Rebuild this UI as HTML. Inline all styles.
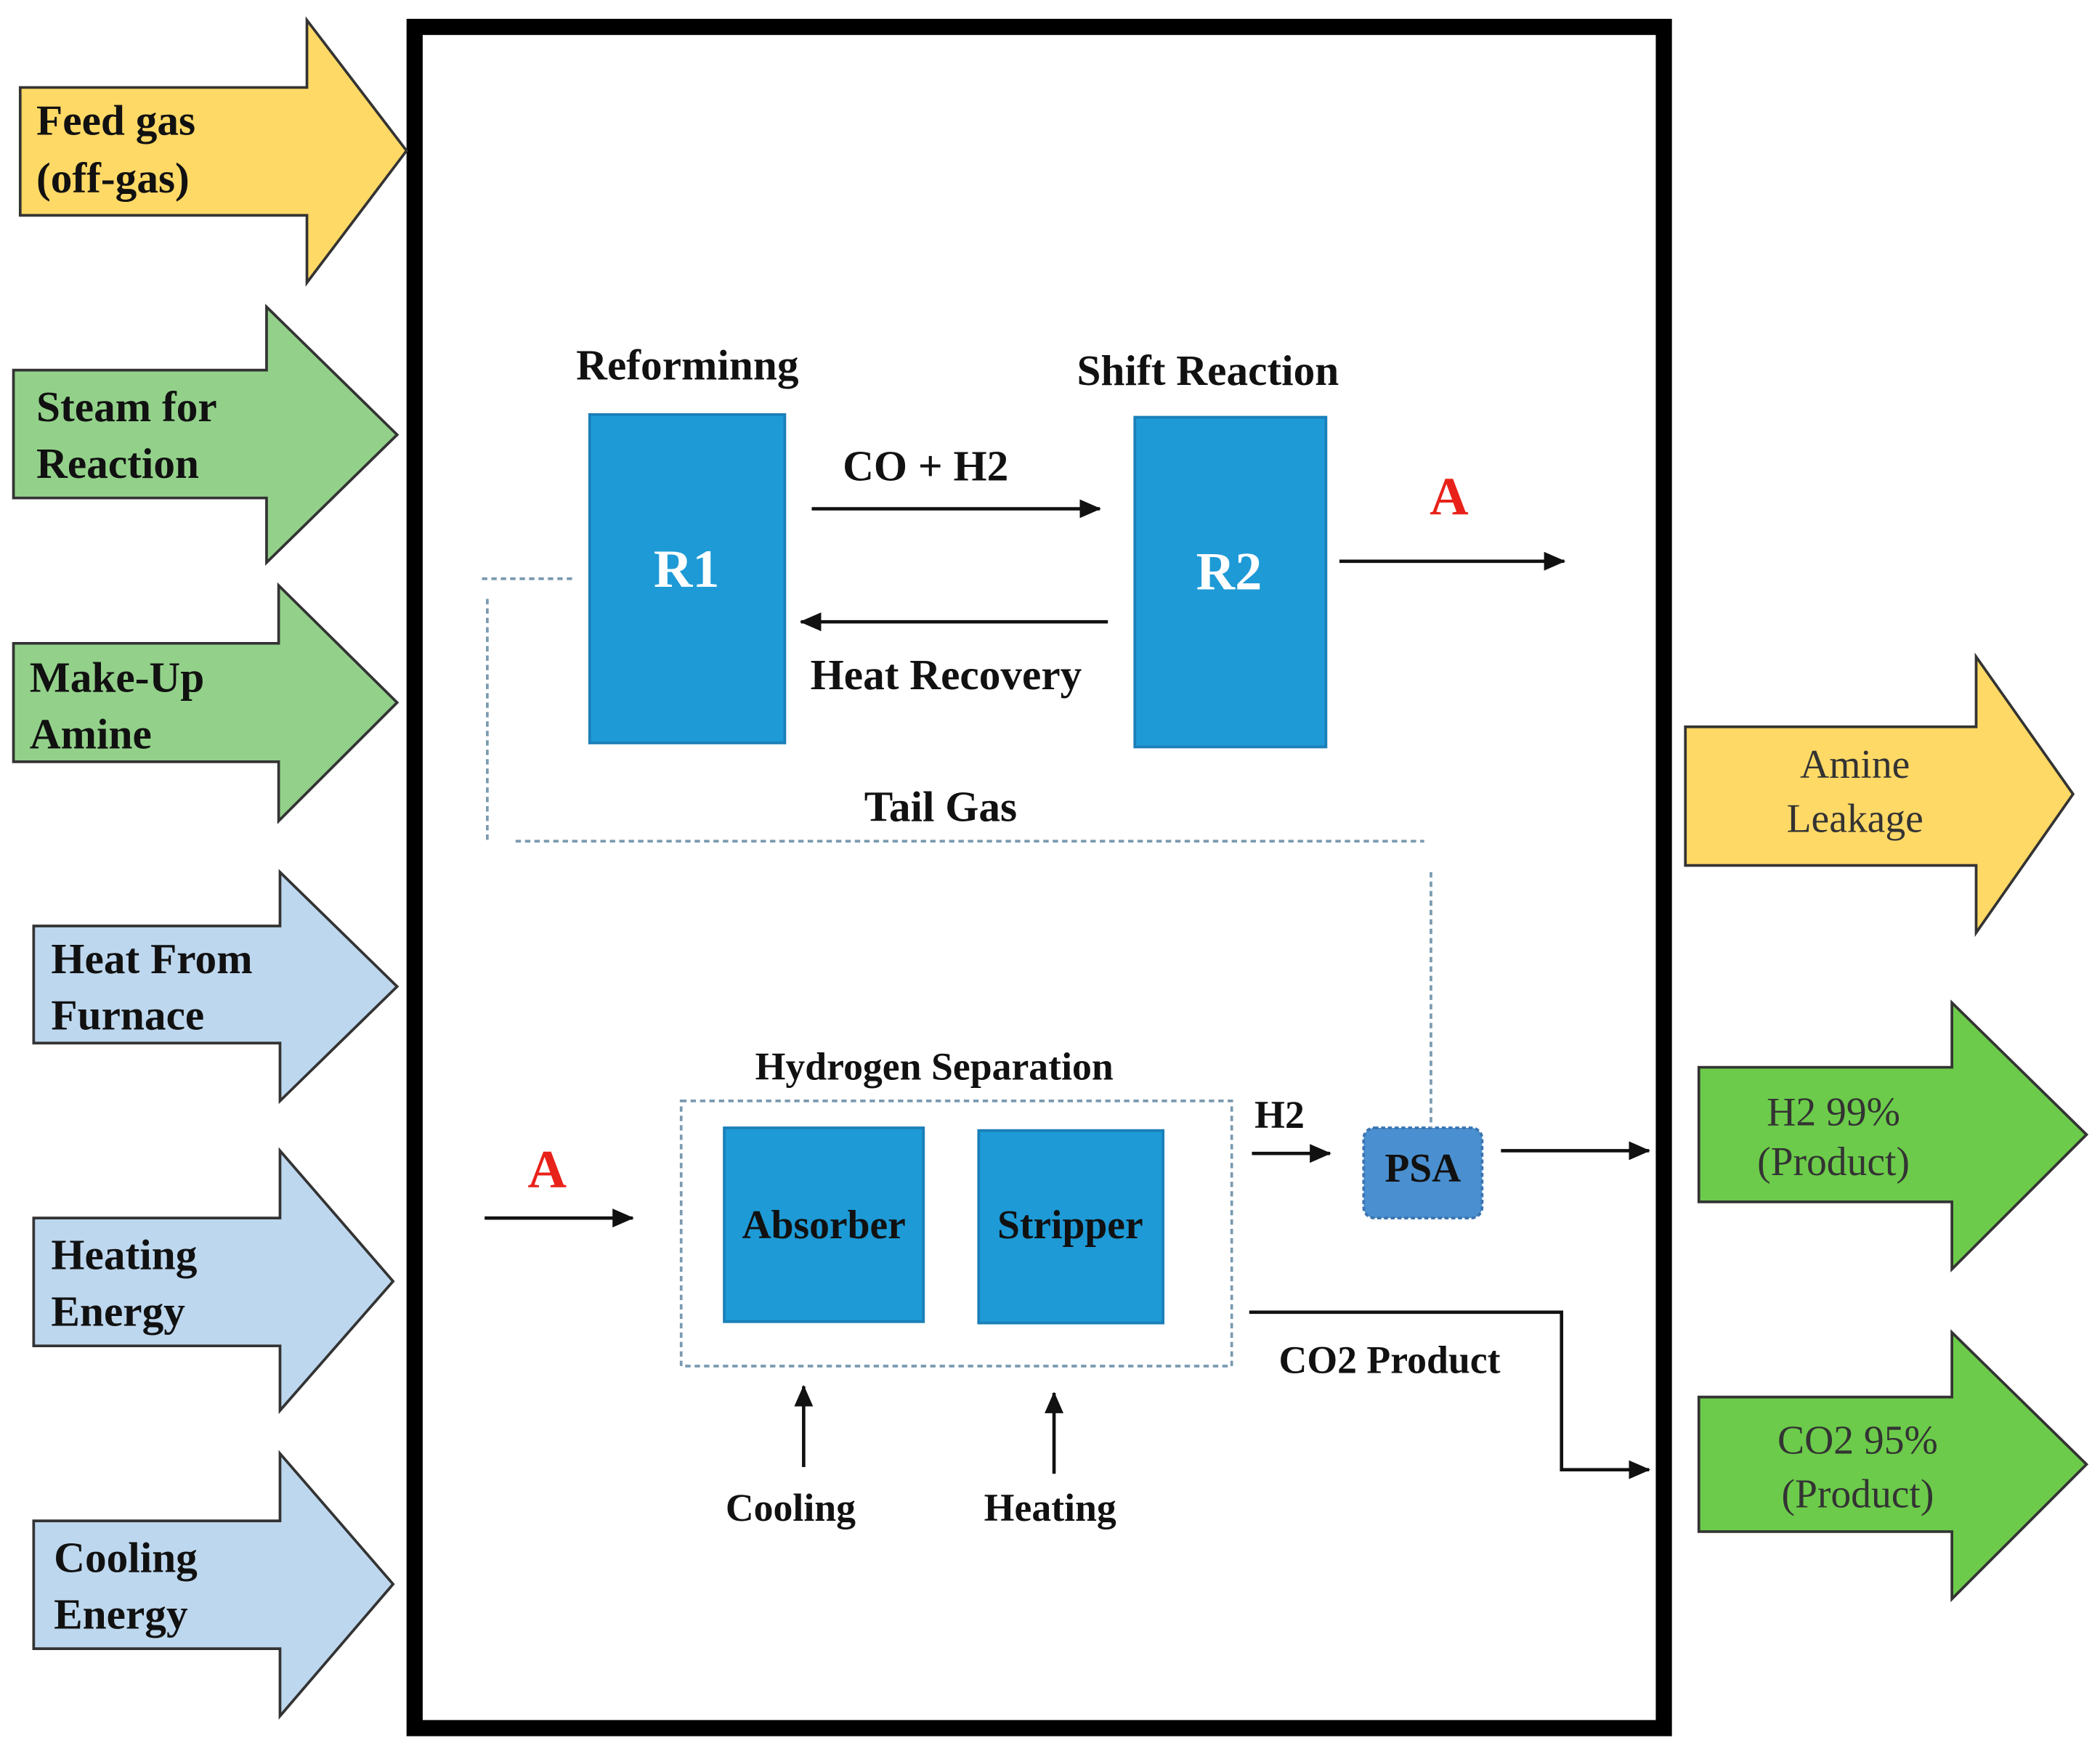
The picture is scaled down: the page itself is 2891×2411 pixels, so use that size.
<!DOCTYPE html>
<html><head><meta charset="utf-8"><style>
html,body{margin:0;padding:0;background:#fff;}
svg{display:block}
svg text{font-family:"Liberation Serif","DejaVu Serif",serif !important;font-weight:bold;}
</style></head><body>
<svg width="2891" height="2411" viewBox="0 0 1560 1301" xmlns="http://www.w3.org/2000/svg" font-family="Liberation Serif, DejaVu Serif, serif">
<defs>
<marker id="ah2" markerWidth="16" markerHeight="14" refX="15" refY="7" orient="auto" markerUnits="userSpaceOnUse"><path d="M0,0 L16,7 L0,14 z" fill="#111"/></marker>
</defs>
<rect x="0" y="0" width="1560" height="1301" fill="#fff"/>
<rect x="308" y="20" width="928" height="1264" fill="none" stroke="#000" stroke-width="12"/>

<g stroke="#333" stroke-width="2">
<polygon points="15,65 228,65 228,15 302,112 228,210 228,160 15,160" fill="#FFD966"/>
<polygon points="10,275 198,275 198,228 295,323 198,418 198,370 10,370" fill="#93D18A"/>
<polygon points="10,478 207,478 207,435 295,522 207,610 207,566 10,566" fill="#93D18A"/>
<polygon points="25,688 208,688 208,648 295,733 208,818 208,775 25,775" fill="#BDD7EE"/>
<polygon points="25,905 208,905 208,855 292,952 208,1048 208,1000 25,1000" fill="#BDD7EE"/>
<polygon points="25,1130 208,1130 208,1080 292,1177 208,1275 208,1225 25,1225" fill="#BDD7EE"/>
<polygon points="1252,540 1468,540 1468,488 1540,590 1468,693 1468,643 1252,643" fill="#FFD966"/>
<polygon points="1262,793 1450,793 1450,745 1550,843 1450,943 1450,893 1262,893" fill="#6CCB4A"/>
<polygon points="1262,1038 1450,1038 1450,990 1550,1088 1450,1188 1450,1138 1262,1138" fill="#6CCB4A"/>
</g>
<g font-size="32" fill="#111" font-weight="bold">
<text x="27" y="100">Feed gas</text><text x="27" y="143">(off-gas)</text>
<text x="27" y="313">Steam for</text><text x="27" y="355">Reaction</text>
<text x="22" y="514">Make-Up</text><text x="22" y="556">Amine</text>
<text x="38" y="723">Heat From</text><text x="38" y="765">Furnace</text>
<text x="38" y="943">Heating</text><text x="38" y="985">Energy</text>
<text x="40" y="1168">Cooling</text><text x="40" y="1210">Energy</text>
</g>
<g font-size="30" fill="#333" text-anchor="middle">
<text x="1378" y="578" style="font-weight:normal">Amine</text>
<text x="1378" y="618" style="font-weight:normal">Leakage</text>
<text x="1362" y="836" style="font-weight:normal">H2 99%</text>
<text x="1362" y="873" style="font-weight:normal">(Product)</text>
<text x="1380" y="1080" style="font-weight:normal">CO2 95%</text>
<text x="1380" y="1120" style="font-weight:normal">(Product)</text>
</g>

<rect x="438" y="308" width="145" height="244" fill="#1E9AD6" stroke="#1A7FB8" stroke-width="2"/>
<rect x="843" y="310" width="142" height="245" fill="#1E9AD6" stroke="#1A7FB8" stroke-width="2"/>
<rect x="538" y="838" width="148" height="144" fill="#1E9AD6" stroke="#1A7FB8" stroke-width="2"/>
<rect x="727" y="840" width="137" height="143" fill="#1E9AD6" stroke="#1A7FB8" stroke-width="2"/>
<rect x="1013" y="838" width="88" height="67" rx="8" fill="#4A90D0" stroke="#3A74B0" stroke-width="2" stroke-dasharray="3,2"/>
<g font-size="40" fill="#fff" text-anchor="middle">
<text x="510" y="436">R1</text><text x="913" y="438">R2</text>
</g>
<g font-size="30" fill="#111" text-anchor="middle">
<text x="612" y="920">Absorber</text><text x="795" y="920">Stripper</text>
<text x="1057" y="878">PSA</text>
</g>

<g stroke="#7A9AB0" stroke-width="2" stroke-dasharray="4,3" fill="none">
<path d="M358,430 H425"/><path d="M362,445 V625"/><path d="M383,625 H1058"/><path d="M1063,648 V838"/>
<rect x="506" y="818" width="409" height="197"/>
</g>

<g stroke="#111" stroke-width="2.5" fill="none">
<path d="M603,378 H817" marker-end="url(#ah2)"/>
<path d="M823,462 H595" marker-end="url(#ah2)"/>
<path d="M995,417 H1162" marker-end="url(#ah2)"/>
<path d="M360,905 H470" marker-end="url(#ah2)"/>
<path d="M930,857 H988" marker-end="url(#ah2)"/>
<path d="M1115,855 H1225" marker-end="url(#ah2)"/>
<path d="M928,975 H1160 V1092 H1225" marker-end="url(#ah2)"/>
<path d="M597,1090 V1030" marker-end="url(#ah2)"/>
<path d="M783,1095 V1035" marker-end="url(#ah2)"/>
</g>

<g font-size="32" fill="#111">
<text x="428" y="282">Reforminng</text>
<text x="800" y="286">Shift Reaction</text>
<text x="626" y="357">CO + H2</text>
<text x="602" y="512">Heat Recovery</text>
<text x="642" y="610">Tail Gas</text>
<text x="561" y="802" font-size="29">Hydrogen Separation</text>
<text x="932" y="838" font-size="29">H2</text>
<text x="950" y="1020" font-size="29">CO2 Product</text>
<text x="539" y="1130" font-size="29">Cooling</text>
<text x="731" y="1130" font-size="29">Heating</text>
</g>
<g font-size="40" fill="#E8221A">
<text x="1062" y="382">A</text>
<text x="392" y="882">A</text>
</g>
</svg>
</body></html>
